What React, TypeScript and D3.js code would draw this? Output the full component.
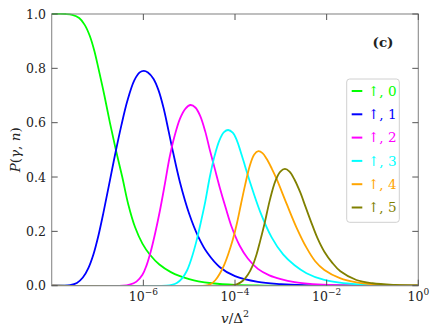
import React from 'react';
import * as d3 from 'd3';

// x values are log10(v/Δ²), y values are P(γ,n)
const seriesN0: [number, number][] = [
  [-8, 1.0], [-7.7, 1.0], [-7.55, 0.997], [-7.4, 0.985], [-7.28, 0.96], [-7.17, 0.92],
  [-7.07, 0.865], [-6.98, 0.8], [-6.85, 0.7], [-6.73, 0.6], [-6.6, 0.5], [-6.46, 0.4],
  [-6.33, 0.3], [-6.18, 0.215], [-6.02, 0.155], [-5.86, 0.115], [-5.65, 0.078],
  [-5.4, 0.05], [-5.2, 0.035], [-5.0, 0.024], [-4.8, 0.016], [-4.5, 0.009], [-4.0, 0.003],
  [-3.5, 0.001], [-3, 0], [-1, 0], [0, 0],
];
const seriesN1: [number, number][] = [
  [-8, 0], [-7.75, 0], [-7.6, 0.002], [-7.45, 0.01], [-7.32, 0.03], [-7.2, 0.065],
  [-7.09, 0.115], [-6.98, 0.185], [-6.87, 0.27], [-6.75, 0.37], [-6.62, 0.48],
  [-6.48, 0.59], [-6.35, 0.68], [-6.2, 0.755], [-6.08, 0.785], [-5.99, 0.791],
  [-5.9, 0.785], [-5.78, 0.762], [-5.67, 0.72], [-5.56, 0.655], [-5.45, 0.57],
  [-5.35, 0.49], [-5.2, 0.38], [-5.0, 0.265], [-4.8, 0.18], [-4.6, 0.12], [-4.33, 0.068],
  [-4.0, 0.035], [-3.5, 0.014], [-3.0, 0.006], [-2.5, 0.002], [-2, 0.001], [-1, 0], [0, 0],
];
const seriesN2: [number, number][] = [
  [-8, 0], [-6.45, 0], [-6.3, 0.004], [-6.15, 0.015], [-6.02, 0.04], [-5.93, 0.075],
  [-5.84, 0.125], [-5.74, 0.195], [-5.64, 0.275], [-5.53, 0.375], [-5.43, 0.47],
  [-5.32, 0.55], [-5.2, 0.615], [-5.08, 0.652], [-4.97, 0.665], [-4.86, 0.655],
  [-4.76, 0.625], [-4.65, 0.568], [-4.55, 0.5], [-4.44, 0.43], [-4.33, 0.36],
  [-4.2, 0.285], [-4.07, 0.215], [-3.9, 0.148], [-3.72, 0.1], [-3.5, 0.062],
  [-3.25, 0.038], [-3.0, 0.024], [-2.7, 0.013], [-2.3, 0.006], [-1.8, 0.002], [-1.0, 0], [0, 0],
];
const seriesN3: [number, number][] = [
  [-8, 0], [-5.5, 0], [-5.38, 0.003], [-5.27, 0.01], [-5.15, 0.028], [-5.05, 0.055],
  [-4.95, 0.1], [-4.84, 0.165], [-4.75, 0.23], [-4.66, 0.3], [-4.55, 0.4], [-4.45, 0.475],
  [-4.34, 0.535], [-4.24, 0.565], [-4.15, 0.573], [-4.05, 0.563], [-3.96, 0.535],
  [-3.88, 0.495], [-3.78, 0.44], [-3.67, 0.38], [-3.45, 0.272], [-3.2, 0.178],
  [-2.95, 0.115], [-2.7, 0.075], [-2.44, 0.046], [-2.07, 0.022], [-1.71, 0.011],
  [-1.3, 0.005], [-0.9, 0.002], [0, 0],
];
const seriesN4: [number, number][] = [
  [-8, 0], [-4.65, 0], [-4.53, 0.006], [-4.43, 0.02], [-4.33, 0.045], [-4.24, 0.075],
  [-4.15, 0.115], [-4.05, 0.168], [-3.96, 0.228], [-3.87, 0.3], [-3.78, 0.37],
  [-3.68, 0.44], [-3.58, 0.483], [-3.49, 0.495], [-3.4, 0.488], [-3.31, 0.467],
  [-3.2, 0.432], [-3.09, 0.392], [-2.87, 0.3], [-2.66, 0.215], [-2.44, 0.14],
  [-2.25, 0.09], [-2.05, 0.058], [-1.71, 0.028], [-1.35, 0.012], [-1.0, 0.005],
  [-0.5, 0.002], [0, 0.001],
];
const seriesN5: [number, number][] = [
  [-8, 0], [-4.1, 0], [-3.95, 0.006], [-3.83, 0.018], [-3.72, 0.04], [-3.62, 0.072],
  [-3.53, 0.115], [-3.45, 0.165], [-3.36, 0.225], [-3.24, 0.315], [-3.12, 0.385],
  [-3.01, 0.42], [-2.91, 0.43], [-2.81, 0.42], [-2.7, 0.39], [-2.58, 0.345],
  [-2.46, 0.29], [-2.34, 0.235], [-2.2, 0.175], [-2.05, 0.125], [-1.88, 0.085],
  [-1.7, 0.053], [-1.35, 0.021], [-1.0, 0.009], [-0.5, 0.003], [0, 0.001],
];

const seriesData = [seriesN0, seriesN1, seriesN2, seriesN3, seriesN4, seriesN5];
const seriesNames = ['0', '1', '2', '3', '4', '5'];
const seriesColors = ['#00ff00', '#0000ff', '#ff00ff', '#00ffff', '#ffa500', '#808000'];
const xTickExps = [-6, -4, -2, 0];
const yTicks = [0, 0.2, 0.4, 0.6, 0.8, 1.0];

const W = 437;
const H = 333;
const left = 51.7;
const right = 418.3;
const top = 14;
const bottom = 285.7;
const FONT = "'DejaVu Serif', serif";

export default function App() {
  const x = d3.scaleLog().domain([1e-8, 1]).range([left, right]);
  const y = d3.scaleLinear().domain([0, 1]).range([bottom, top]);
  const line = d3
    .line<[number, number]>()
    .x((d) => x(Math.pow(10, d[0])))
    .y((d) => y(d[1]))
    .curve(d3.curveCatmullRom.alpha(0.5));

  const tickLen = 6;
  const tickColor = '#555';
  const legX = 346.7;
  const legY = 79;
  const legW = 52.6;
  const legH = 143.3;
  const legStep = 23.3;
  const txt = { fontFamily: FONT };

  return (
    <svg width={W} height={H} style={{ position: 'absolute', left: 0, top: 0, background: '#fff' }}>
      <defs>
        <clipPath id="plotclip">
          <rect x={left} y={top - 2} width={right - left} height={bottom - top + 2} />
        </clipPath>
      </defs>
      <rect x={0} y={0} width={W} height={H} fill="#fff" />
      <g clipPath="url(#plotclip)">
        {seriesData.map((s, i) => (
          <path key={i} d={line(s) || ''} fill="none" stroke={seriesColors[i]} strokeWidth={1.8} />
        ))}
      </g>
      <rect x={left} y={top} width={right - left} height={bottom - top} fill="none" stroke="#8a8a8a" strokeWidth={1.1} />
      {xTickExps.map((e) => {
        const px = x(Math.pow(10, e));
        return (
          <g key={'xt' + e}>
            <line x1={px} x2={px} y1={bottom} y2={bottom - tickLen} stroke={tickColor} strokeWidth={1} />
            <line x1={px} x2={px} y1={top} y2={top + tickLen} stroke={tickColor} strokeWidth={1} />
            <text x={px} y={300.5} style={txt} fontSize={12.5} fill="#222" textAnchor="middle">
              10
              <tspan dy={-5.5} fontSize={9}>{(e < 0 ? '\u2212' : '') + Math.abs(e)}</tspan>
            </text>
          </g>
        );
      })}
      {yTicks.map((t) => {
        const py = y(t);
        return (
          <g key={'yt' + t}>
            <line x1={left} x2={left + tickLen} y1={py} y2={py} stroke={tickColor} strokeWidth={1} />
            <line x1={right} x2={right - tickLen} y1={py} y2={py} stroke={tickColor} strokeWidth={1} />
            <text x={46} y={py} dy="0.36em" style={txt} fontSize={12.5} fill="#222" textAnchor="end">
              {t.toFixed(1)}
            </text>
          </g>
        );
      })}
      <text x={235} y={323} style={txt} fontSize={13.5} fill="#222" textAnchor="middle">
        <tspan fontStyle="italic">v</tspan>/Δ<tspan dy={-6} fontSize={9.5}>2</tspan>
      </text>
      <text
        transform={`translate(20, ${(top + bottom) / 2}) rotate(-90)`}
        style={txt}
        fontSize={13.5}
        fill="#222"
        textAnchor="middle"
      >
        <tspan fontStyle="italic">P</tspan>(<tspan fontStyle="italic">γ</tspan>, <tspan fontStyle="italic">n</tspan>)
      </text>
      <text x={383} y={47} style={txt} fontSize={13.5} fontWeight="bold" fill="#222" textAnchor="middle">
        (c)
      </text>
      <rect x={legX} y={legY} width={legW} height={legH} rx={3} fill="#fff" fillOpacity={0.85} stroke="#d0d0d0" strokeWidth={1} />
      {seriesNames.map((n, i) => {
        const cy = 91 + i * legStep;
        return (
          <g key={'lg' + i}>
            <line x1={351.7} x2={362.3} y1={cy} y2={cy} stroke={seriesColors[i]} strokeWidth={2} />
            <text x={368} y={cy} dy="0.36em" style={txt} fontSize={13.5} fill={seriesColors[i]}>
              {'\u2191, ' + n}
            </text>
          </g>
        );
      })}
    </svg>
  );
}
